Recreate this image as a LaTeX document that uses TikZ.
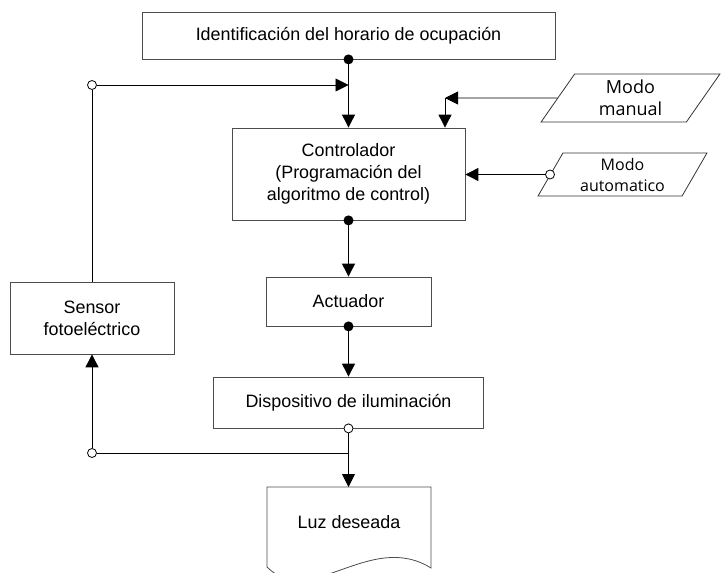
\documentclass[tikz,border=0pt]{standalone}
\usepackage{fontspec}
\setmainfont{Liberation Sans}
\newfontfamily\modofont{Open Sans}
\usetikzlibrary{arrows.meta,shapes.geometric,positioning,calc}

\begin{document}
\begin{tikzpicture}[x=1pt,y=-1pt,
    bloque/.style={draw=black!70, line width=.8pt, inner sep=0pt, align=center,
      font=\fontsize{17.9}{22}\selectfont},
    modo/.style={trapezium, trapezium left angle=62, trapezium right angle=118,
      trapezium stretches=true, draw=black!80, line width=.8pt, inner sep=0pt,
      align=center},
    flecha/.style={-{Triangle[length=13pt,width=13pt]}, line width=.9pt},
    linea/.style={line width=.9pt},
    punto/.style={circle, fill, inner sep=0pt, minimum size=10pt},
    hueco/.style={circle, draw, fill=white, inner sep=0pt, minimum size=9pt, line width=.8pt}]

    \useasboundingbox (0,0) rectangle (721,573);
    \clip (0,0) rectangle (721,573);

    % bloques
    \node[bloque, minimum width=413pt, minimum height=47pt] (ident) at (348.5,35.5) {Identificación del horario de ocupación};
    \node[bloque, minimum width=233pt, minimum height=92pt] (ctrl) at (348.5,174) {Controlador\\(Programación del\\algoritmo de control)};
    \node[bloque, minimum width=165pt, minimum height=49pt] (act) at (348.5,301.5) {Actuador};
    \node[bloque, minimum width=270pt, minimum height=51pt] (disp) at (348.5,402.5) {Dispositivo de iluminación};
    \node[bloque, minimum width=164pt, minimum height=72pt] (sensor) at (92,318) {Sensor\\fotoeléctrico};

    \node[modo, minimum width=179pt, minimum height=48pt,
      font=\modofont\fontsize{18}{22}\selectfont] (manual) at (630.5,98) {Modo\\manual};
    \node[modo, minimum width=169pt, minimum height=43pt,
      font=\modofont\fontsize{16}{21}\selectfont] (auto) at (622.5,174.5) {Modo\\automatico};

    % documento
    \draw[draw=black!70, line width=.8pt] (267,567) -- (267,487) -- (431,487) -- (431,568)
      .. controls (370,530) and (310,610) .. (267,567);
    \node[font=\fontsize{17.9}{22}\selectfont] (luz) at (349,522) {Luz deseada};
    \coordinate (luztop) at (348.5,487);

    % conexiones
    \draw[flecha] (ident.south) -- (ctrl.north);
    \node[punto] (p1) at (ident.south) {};

    \node[hueco] (h1) at (92,85) {};
    \draw[linea] (sensor.north) -- (h1.south);
    \draw[flecha] (h1.east) -- (ctrl.north |- h1);

    \coordinate (c1) at (445,98);
    \draw[flecha] (manual.west) -- (c1);
    \draw[flecha] (c1) -- (c1 |- ctrl.north);

    \node[hueco] (h2) at (auto.west) {};
    \draw[flecha] (h2.west) -- (ctrl.east |- h2);

    \draw[flecha] (ctrl.south) -- (act.north);
    \node[punto] (p2) at (ctrl.south) {};
    \draw[flecha] (act.south) -- (disp.north);
    \node[punto] (p3) at (act.south) {};

    \node[hueco] (h3) at (disp.south) {};
    \draw[flecha] (h3.south) -- (luztop);
    \node[hueco] (h4) at (92,453) {};
    \coordinate (j1) at (disp.south |- h4);
    \draw[linea] (j1) -- (h4.east);
    \draw[flecha] (h4.north) -- (sensor.south);
\end{tikzpicture}
\end{document}
